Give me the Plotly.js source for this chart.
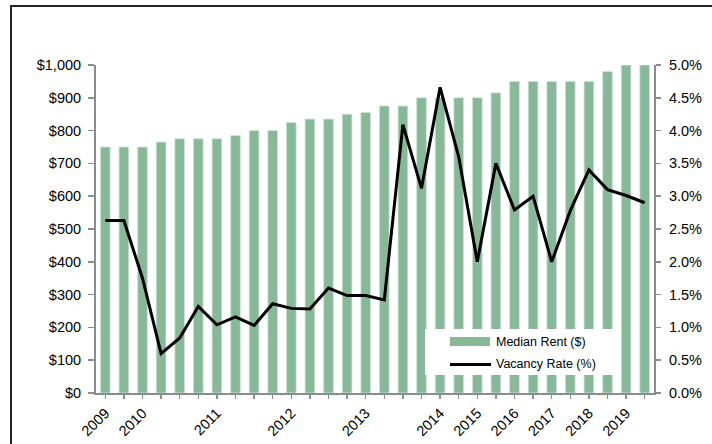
<!DOCTYPE html>
<html>
<head>
<meta charset="utf-8">
<script src="https://cdn.plot.ly/plotly-3.0.1.min.js"></script>
<style>
  html, body { margin: 0; padding: 0; background: #ffffff; }
  #chart { width: 712px; height: 444px; }
</style>
</head>
<body>
<div id="chart"></div>
<script>
// Period tick labels (one per bar; empty = unlabeled tick)
const periodLabels = [
  "2009", "", "2010", "", "", "", "2011", "", "", "",
  "2012", "", "", "", "2013", "", "", "", "2014", "",
  "2015", "", "2016", "", "2017", "", "2018", "", "2019", ""
];

// Median rent ($)
const medianRent = [
  750, 750, 750, 765, 775, 775, 775, 785, 800, 800,
  825, 835, 835, 850, 855, 875, 875, 900, 900, 900,
  900, 915, 950, 950, 950, 950, 950, 980, 1000, 1000
];

// Vacancy rate (%)
const vacancyRate = [
  2.63, 2.63, 1.75, 0.60, 0.84, 1.32, 1.04, 1.16, 1.03, 1.36,
  1.29, 1.28, 1.60, 1.485, 1.485, 1.42, 4.09, 3.12, 4.66, 3.60,
  2.00, 3.50, 2.79, 3.00, 2.00, 2.78, 3.40, 3.10, 3.01, 2.90
];

const seriesNames = ["Median Rent ($)", "Vacancy Rate (%)"];

const idx = periodLabels.map((_, i) => i);

const barColor = "#87b998";
const axisColor = "#8c8c8c";
const fontFamily = "Liberation Sans, Arial, sans-serif";
const tickSize = 14.5;

const traces = [
  {
    type: "bar",
    name: seriesNames[0],
    x: idx,
    y: medianRent,
    marker: { color: barColor, line: { color: "#cfe5d5", width: 0.8 } },
    yaxis: "y",
    showlegend: false,
    hoverinfo: "skip"
  },
  {
    type: "scatter",
    mode: "lines",
    name: seriesNames[1],
    x: idx,
    y: vacancyRate,
    line: { color: "#000000", width: 3 },
    yaxis: "y2",
    showlegend: false,
    hoverinfo: "skip"
  }
];

const W = 712, H = 444;
const mL = 96, mR = 58, mT = 65, mB = 51;
const pw = W - mL - mR, ph = H - mT - mB;
const px = v => (v - mL) / pw;
const py = v => (H - mB - v) / ph;

const layout = {
  width: W,
  height: H,
  margin: { l: mL, r: mR, t: mT, b: mB, pad: 0 },
  paper_bgcolor: "#ffffff",
  plot_bgcolor: "#ffffff",
  font: { family: fontFamily, size: tickSize, color: "#000000" },
  bargap: 0.48,
  showlegend: false,
  xaxis: {
    range: [-0.5, idx.length - 0.5],
    tickmode: "array",
    tickvals: idx,
    ticktext: periodLabels,
    tickangle: -45,
    ticks: "outside",
    ticklen: 4,
    tickwidth: 1.5,
    tickcolor: axisColor,
    showline: true,
    linecolor: axisColor,
    linewidth: 2,
    showgrid: false,
    zeroline: false,
    tickfont: { family: fontFamily, size: tickSize, color: "#000000" },
    fixedrange: true
  },
  yaxis: {
    range: [0, 1000],
    dtick: 100,
    tickprefix: "$",
    tickformat: ",d",
    ticks: "outside",
    ticklen: 6,
    tickwidth: 1.5,
    tickcolor: axisColor,
    showline: true,
    linecolor: axisColor,
    linewidth: 2,
    showgrid: false,
    zeroline: false,
    tickfont: { family: fontFamily, size: tickSize, color: "#000000" },
    ticklabelstandoff: 4,
    fixedrange: true
  },
  yaxis2: {
    range: [0, 5],
    dtick: 0.5,
    tickformat: ".1f",
    ticksuffix: "%",
    overlaying: "y",
    side: "right",
    ticks: "outside",
    ticklen: 5,
    tickwidth: 1.5,
    tickcolor: axisColor,
    showline: true,
    linecolor: axisColor,
    linewidth: 2,
    showgrid: false,
    zeroline: false,
    tickfont: { family: fontFamily, size: tickSize, color: "#000000" },
    ticklabelstandoff: 5,
    fixedrange: true
  },
  shapes: [
    // outer chart frame (extends past the window on right and bottom)
    {
      type: "rect", xref: "paper", yref: "paper",
      x0: px(11), x1: px(780), y0: py(520), y1: py(6),
      line: { color: "#222222", width: 2 },
      fillcolor: "rgba(0,0,0,0)",
      layer: "below"
    },
    // legend box
    {
      type: "rect", xref: "paper", yref: "paper",
      x0: px(425), x1: px(620), y0: py(375), y1: py(329),
      line: { width: 0 },
      fillcolor: "#ffffff",
      layer: "above"
    },
    // legend swatch: bar
    {
      type: "rect", xref: "paper", yref: "paper",
      x0: px(450), x1: px(490), y0: py(346), y1: py(337),
      line: { width: 0 },
      fillcolor: barColor,
      layer: "above"
    },
    // legend swatch: line
    {
      type: "line", xref: "paper", yref: "paper",
      x0: px(450), x1: px(491), y0: py(364.5), y1: py(364.5),
      line: { color: "#000000", width: 3 },
      layer: "above"
    }
  ],
  annotations: [
    {
      xref: "paper", yref: "paper",
      x: px(494), y: py(341.5),
      xanchor: "left", yanchor: "middle",
      text: seriesNames[0], showarrow: false,
      font: { family: fontFamily, size: 12.5, color: "#000000" }
    },
    {
      xref: "paper", yref: "paper",
      x: px(494), y: py(364),
      xanchor: "left", yanchor: "middle",
      text: seriesNames[1], showarrow: false,
      font: { family: fontFamily, size: 12.5, color: "#000000" }
    }
  ]
};

Plotly.newPlot("chart", traces, layout, { displayModeBar: false, staticPlot: true });
</script>
</body>
</html>
